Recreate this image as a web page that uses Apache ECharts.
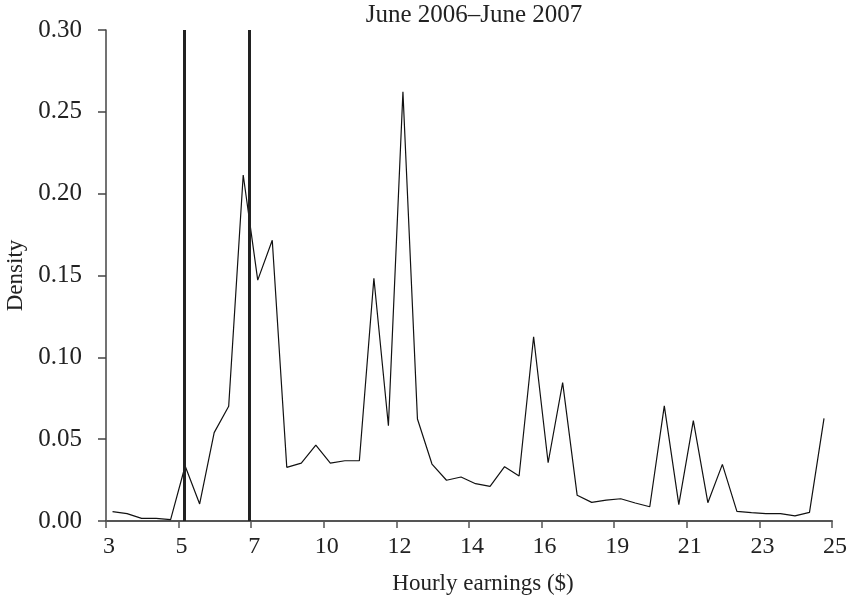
<!DOCTYPE html>
<html>
<head>
<meta charset="utf-8">
<script src="https://cdn.jsdelivr.net/npm/echarts@6/dist/echarts.min.js"></script>
<style>
  html, body { margin: 0; padding: 0; background: #fff; }
  #chart { width: 856px; height: 604px; }
</style>
</head>
<body>
<div id="chart"></div>
<script>
// density of hourly earnings, one value per bin (50 bins from $3 to $25)
var density = [
  0.0057, 0.0045, 0.0016, 0.0016, 0.0008, 0.0336, 0.0104, 0.0540, 0.0701, 0.2114,
  0.1472, 0.1715, 0.0328, 0.0354, 0.0464, 0.0354, 0.0368, 0.0368, 0.1483, 0.0582,
  0.2623, 0.0623, 0.0348, 0.0249, 0.0269, 0.0228, 0.0212, 0.0332, 0.0275, 0.1126,
  0.0356, 0.0845, 0.0157, 0.0114, 0.0128, 0.0136, 0.0110, 0.0087, 0.0703, 0.0100,
  0.0613, 0.0112, 0.0346, 0.0059, 0.0051, 0.0045, 0.0045, 0.0031, 0.0053, 0.0627
];
// tick labels on the x axis, one every 5 bins
var xTickLabels = ["3", "5", "7", "10", "12", "14", "16", "19", "21", "23", "25"];
// vertical reference lines, in bin units
var markerBins = [5.4, 9.9];

var points = [];
for (var i = 0; i < density.length; i++) {
  points.push([i + 0.45, density[i]]);
}

var font = "Liberation Serif";
var myChart = echarts.init(document.getElementById("chart"));
myChart.setOption({
  animation: false,
  title: {
    text: "June 2006\u2013June 2007",
    left: 469,
    textAlign: "center",
    top: -2,
    textStyle: { fontFamily: font, fontSize: 25, fontWeight: "normal", color: "#222" }
  },
  grid: { left: 106, right: 24, top: 30, bottom: 83, outerBoundsMode: "none", containLabel: false },
  xAxis: {
    type: "value",
    min: 0,
    max: 50,
    interval: 5,
    name: "Hourly earnings ($)",
    nameLocation: "middle",
    nameGap: 51,
    nameTextStyle: { fontFamily: font, fontSize: 23, color: "#222", padding: [0, 0, 0, 28] },
    axisLine: { onZero: false, lineStyle: { color: "#555", width: 2 } },
    axisTick: { show: true, length: 7, lineStyle: { color: "#555", width: 1.5 } },
    axisLabel: {
      margin: 14,
      padding: [0, 0, 0, 6],
      fontFamily: font, fontSize: 24, color: "#222",
      formatter: function (v) { return xTickLabels[Math.round(v / 5)]; }
    },
    splitLine: { show: false }
  },
  yAxis: {
    type: "value",
    min: 0,
    max: 0.3,
    interval: 0.05,
    name: "Density",
    nameLocation: "middle",
    nameRotate: 90,
    nameGap: 78,
    nameTextStyle: { fontFamily: font, fontSize: 23, color: "#222" },
    axisLine: { show: true, lineStyle: { color: "#444", width: 1.5 } },
    axisTick: { show: true, length: 8, lineStyle: { color: "#444", width: 1.5 } },
    axisLabel: {
      margin: 24,
      fontFamily: font, fontSize: 25, color: "#222",
      formatter: function (v) { return v.toFixed(2); }
    },
    splitLine: { show: false }
  },
  series: [
    {
      type: "line",
      data: points,
      symbol: "none",
      lineStyle: { color: "#111", width: 1.2 },
      markLine: {
        silent: true,
        symbol: "none",
        label: { show: false },
        lineStyle: { color: "#222", width: 3, type: "solid" },
        data: markerBins.map(function (b) { return { xAxis: b }; })
      }
    }
  ]
});
</script>
</body>
</html>
